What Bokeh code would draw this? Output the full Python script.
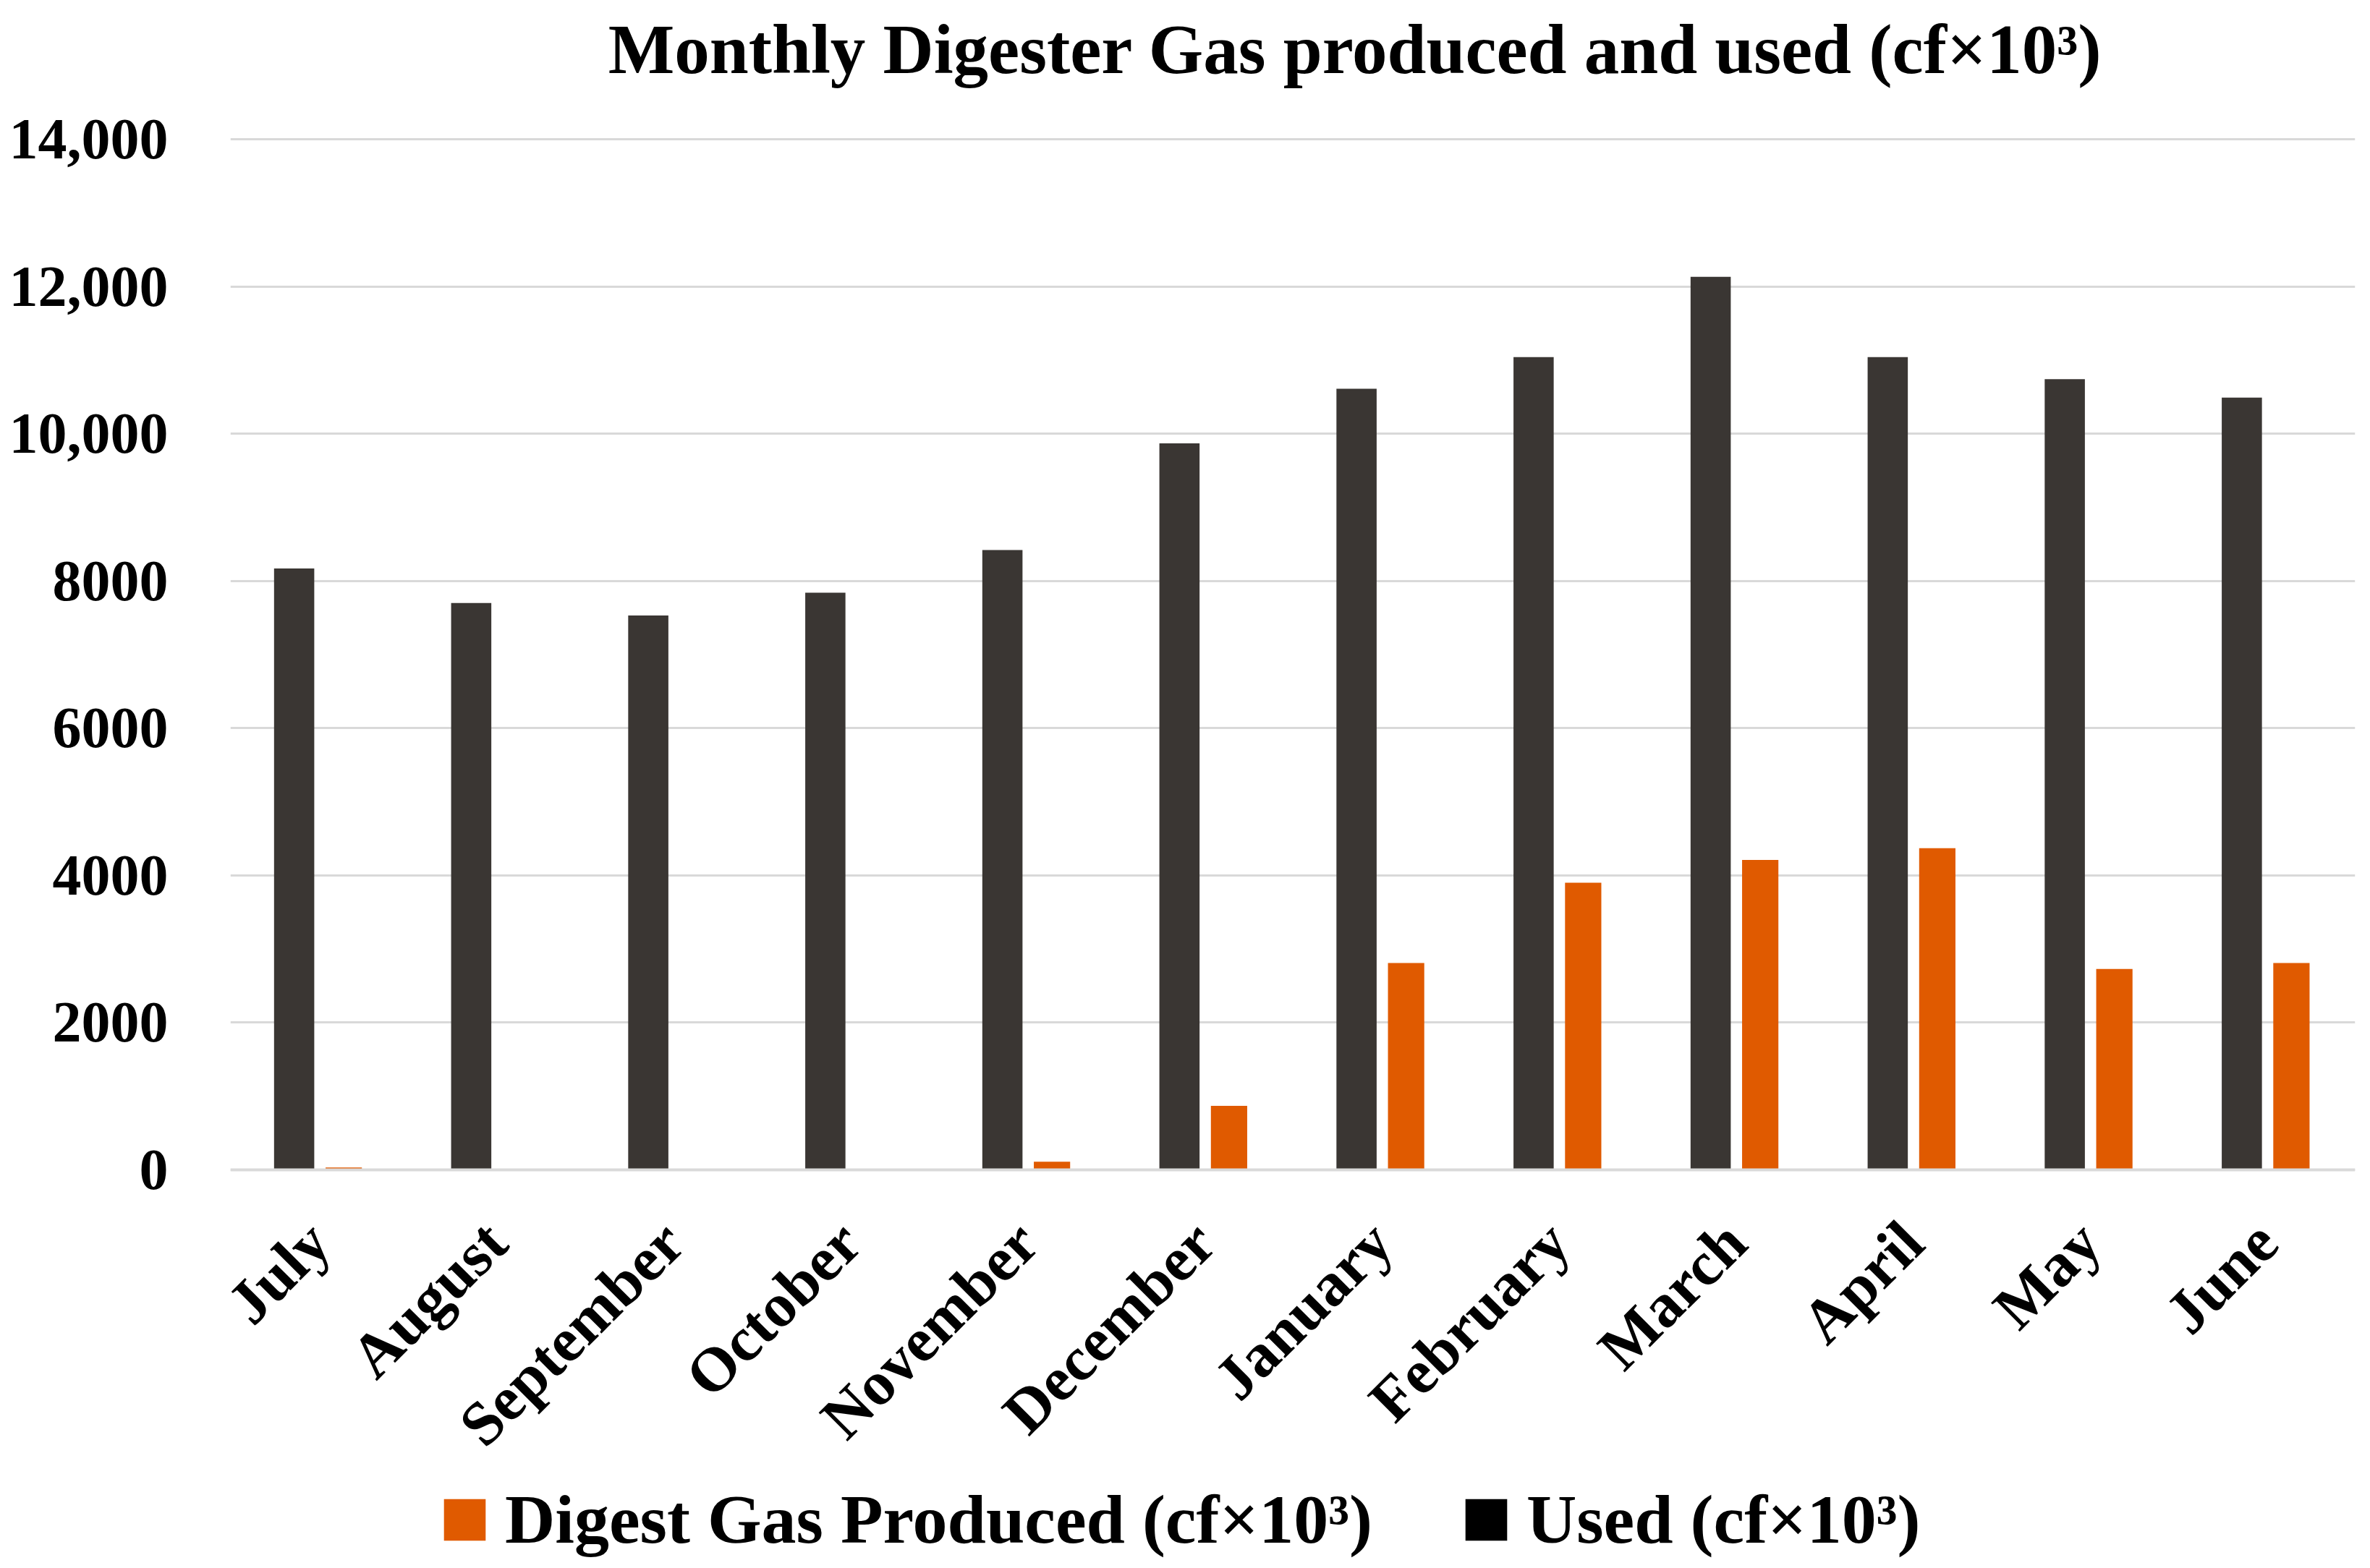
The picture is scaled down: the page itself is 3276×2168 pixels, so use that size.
import math
from bokeh.plotting import figure
from bokeh.models import (FactorRange, Range1d, FixedTicker, Legend, LegendItem,
                          ColumnDataSource, Label)
from bokeh.transform import dodge
from bokeh.embed import file_html
from bokeh.resources import INLINE

months = ["July", "August", "September", "October", "November", "December",
          "January", "February", "March", "April", "May", "June"]
used = [8170, 7700, 7530, 7840, 8420, 9870, 10610, 11040, 12130, 11040, 10740, 10490]
produced = [33, 0, 0, 0, 110, 870, 2810, 3900, 4210, 4370, 2730, 2810]
y_ticks = [0, 2000, 4000, 6000, 8000, 10000, 12000, 14000]
y_tick_labels = ["0", "2000", "4000", "6000", "8000", "10,000", "12,000", "14,000"]
title_text = "Monthly Digester Gas produced and used (cf\u00d710\u00b3)"
label_produced = "Digest Gas Produced (cf\u00d710\u00b3)"
label_used = "Used (cf\u00d710\u00b3)"

FONT = "Liberation Serif"
USED_C = "#3a3633"
PROD_C = "#e05a00"

# layout (pixels): the frame fills the canvas height so that the title,
# category labels and legend all live inside it
CANVAS_H = 2160
ZERO_PX = 1617          # screen y of value 0
TOP_PX = 192            # screen y of value 14000
px_per_unit = (ZERO_PX - TOP_PX) / 14000.0
y_top = ZERO_PX / px_per_unit
y_bot = -(CANVAS_H - ZERO_PX) / px_per_unit

src = ColumnDataSource(dict(month=months, used=used, produced=produced))

p = figure(x_range=FactorRange(factors=months, range_padding=0),
           y_range=Range1d(y_bot, y_top),
           frame_width=2937, frame_height=CANVAS_H,
           min_border_left=318, min_border_right=13,
           min_border_top=0, min_border_bottom=0,
           output_backend="svg", toolbar_location=None,
           background_fill_color="white", border_fill_color="white",
           outline_line_color=None)

p.vbar(x=dodge("month", -0.14, range=p.x_range), top="used", width=0.227,
       bottom=0, source=src, fill_color=USED_C, line_color=None)
p.vbar(x=dodge("month", 0.14, range=p.x_range), top="produced", width=0.205,
       bottom=0, source=src, fill_color=PROD_C, line_color=None)

# title (inside the frame, above the 14,000 grid line)
title_y = (ZERO_PX - 68) / px_per_unit
title_x = (1873 - 318) / 244.75
p.add_layout(Label(x=title_x, y=title_y, text=title_text,
                   text_align="center", text_baseline="alphabetic",
                   text_font=FONT, text_font_size="97px", text_font_style="bold",
                   text_color="#000000"))

# legend proxies (zero-height bars, only used for the legend swatches)
r_prod = p.vbar(x=[months[0]], top=[0], bottom=[0], width=0.2,
                fill_color=PROD_C, line_color=None)
r_used = p.vbar(x=[months[0]], top=[0], bottom=[0], width=0.2,
                fill_color="#000000", line_color=None)

legend = Legend(items=[LegendItem(label=label_produced, renderers=[r_prod]),
                       LegendItem(label=label_used, renderers=[r_used])],
                orientation="horizontal", location=(288, 4),
                glyph_width=72, glyph_height=72, label_standoff=20, spacing=121,
                padding=0, margin=0, border_line_color=None,
                background_fill_alpha=0,
                label_text_font=FONT, label_text_font_size="96px",
                label_text_font_style="bold", label_text_color="#000000")
p.add_layout(legend, "center")

p.yaxis.ticker = FixedTicker(ticks=y_ticks)
p.yaxis.major_label_overrides = {v: s for v, s in zip(y_ticks, y_tick_labels)}
p.yaxis.axis_line_color = None
p.yaxis.major_tick_line_color = None
p.yaxis.minor_tick_line_color = None
p.yaxis.major_label_standoff = 80
p.yaxis.major_label_text_font = FONT
p.yaxis.major_label_text_font_size = "80px"
p.yaxis.major_label_text_font_style = "bold"
p.yaxis.major_label_text_color = "#000000"

p.xaxis.fixed_location = 0
p.xaxis.axis_line_color = "#d9d9d9"
p.xaxis.axis_line_width = 4
p.xaxis.major_tick_line_color = None
p.xaxis.minor_tick_line_color = None
p.xaxis.major_label_orientation = math.pi / 4
p.xaxis.major_label_standoff = 80
p.xaxis.major_label_text_font = FONT
p.xaxis.major_label_text_font_size = "86px"
p.xaxis.major_label_text_font_style = "bold"
p.xaxis.major_label_text_color = "#000000"

p.xgrid.grid_line_color = None
p.ygrid.grid_line_color = "#d9d9d9"
p.ygrid.grid_line_width = 3

open("out.html", "w").write(file_html(p, INLINE))
